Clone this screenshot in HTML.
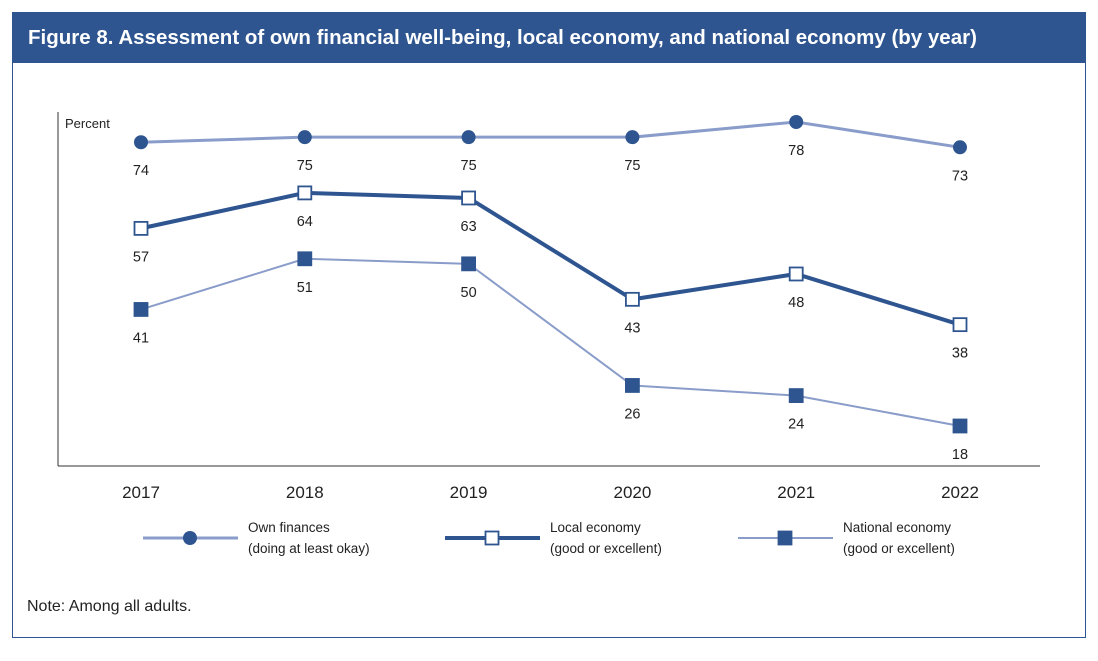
<!DOCTYPE html>
<html><head><meta charset="utf-8"><style>
body{margin:0;background:#fff;width:1098px;height:661px;overflow:hidden;font-family:"Liberation Sans",sans-serif;}
#frame{position:absolute;left:12px;top:12px;width:1074px;height:626px;border:1px solid #2e5590;box-sizing:border-box;}
#hdr{position:absolute;left:12px;top:12px;width:1074px;height:51px;background:#2e5590;color:#fff;font-weight:bold;font-size:20.5px;line-height:51px;padding-left:16px;box-sizing:border-box;white-space:nowrap;}
svg{position:absolute;left:0;top:0;}
</style></head><body>
<div id="frame"></div>
<div id="hdr">Figure 8. Assessment of own financial well-being, local economy, and national economy (by year)</div>
<svg id="c" width="1098" height="661" font-family="Liberation Sans, sans-serif"></svg>
<script>
const years=["2017","2018","2019","2020","2021","2022"];
const ownFinances=[74,75,75,75,78,73];
const localEconomy=[57,64,63,43,48,38];
const nationalEconomy=[41,51,50,26,24,18];
const NS="http://www.w3.org/2000/svg";
const svg=document.getElementById('c');
function x(i){return 141+i*163.8;}
function y(v){return 517.2-5.067*v;}
function mk(t,a,p){const e=document.createElementNS(NS,t);for(const k in a)e.setAttribute(k,a[k]);(p||svg).appendChild(e);return e;}
const DARK="#2e5590",LIGHT="#8a9cc9";
let e;
e=mk('line',{x1:58,y1:112,x2:58,y2:466,stroke:"#333","stroke-width":1});

e=mk('line',{x1:58,y1:466,x2:1040,y2:466,stroke:"#333","stroke-width":1});

e=mk('text',{x:65,y:128,"font-size":13,fill:"#222"});e.textContent="Percent";

years.forEach((yr,i)=>{e=mk('text',{x:x(i),y:498,"font-size":17,fill:"#222","text-anchor":"middle"});e.textContent=yr;
});
function series(vals,name,color,w,marker){
  const pts=vals.map((v,i)=>x(i)+","+y(v)).join(" ");
  e=mk('polyline',{points:pts,fill:"none",stroke:color,"stroke-width":w});
  
  vals.forEach((v,i)=>{
    if(marker==='circle')e=mk('circle',{cx:x(i),cy:y(v),r:7,fill:DARK});
    else e=mk('rect',{x:x(i)-6.5,y:y(v)-6.5,width:13,height:13,fill:marker==='open'?"#fff":DARK,stroke:DARK,"stroke-width":1.8});
    
    e=mk('text',{x:x(i),y:y(v)+33,"font-size":14.5,fill:"#222","text-anchor":"middle"});e.textContent=v;
    
  });
}
series(ownFinances,'own-finances',LIGHT,3,'circle');
series(localEconomy,'local-economy',DARK,4,'open');
series(nationalEconomy,'national-economy',LIGHT,2,'filled');
function legend(x0,name,color,w,marker,l1,l2){
  const g=mk('g',{});
  mk('line',{x1:x0,y1:538,x2:x0+95,y2:538,stroke:color,"stroke-width":w},g);
  const cx=x0+47;
  if(marker==='circle')mk('circle',{cx:cx,cy:538,r:7,fill:DARK},g);
  else mk('rect',{x:cx-6.5,y:531.5,width:13,height:13,fill:marker==='open'?"#fff":DARK,stroke:DARK,"stroke-width":1.8},g);
  let t=mk('text',{x:x0+105,y:532,"font-size":13.5,fill:"#222"},g);t.textContent=l1;
  t=mk('text',{x:x0+105,y:553,"font-size":13.5,fill:"#222"},g);t.textContent=l2;
}
legend(143,'own-finances',LIGHT,3,'circle','Own finances','(doing at least okay)');
legend(445,'local-economy',DARK,4,'open','Local economy','(good or excellent)');
legend(738,'national-economy',LIGHT,2,'filled','National economy','(good or excellent)');
e=mk('text',{x:27,y:611,"font-size":16,fill:"#222"});e.textContent="Note: Among all adults.";

</script>
</body></html>
